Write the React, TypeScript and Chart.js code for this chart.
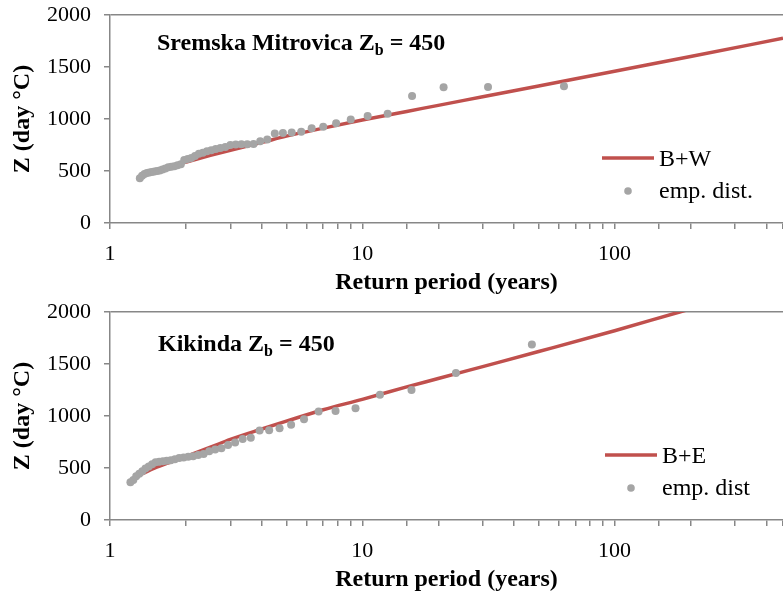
import React, { useEffect, useRef } from 'react';
import { Chart, registerables } from 'chart.js';

Chart.register(...registerables);

const FONT = '"Liberation Serif", "Times New Roman", serif';
const AXIS = '#878787';
const RED = '#C0504D';
const GRAY = '#A5A5A5';
const X_MIN = 1;
const X_MAX = 465;
const Y_MIN = 0;
const Y_MAX = 2000;
const Y_STEP = 500;
const X_LABELS = [1, 10, 100];

// ---- Sremska Mitrovica (top panel) ----
const smEmpT = [
  63, 31.5, 21, 15.75, 12.6, 10.5, 9, 7.875, 7, 6.3, 5.727, 5.25, 4.846, 4.5, 4.2, 3.938,
  3.706, 3.5, 3.316, 3.15, 3, 2.864, 2.739, 2.625, 2.52, 2.423, 2.333, 2.25, 2.172, 2.1,
  2.032, 1.969, 1.909, 1.853, 1.8, 1.75, 1.703, 1.658, 1.615, 1.575, 1.537, 1.5, 1.465,
  1.432, 1.4, 1.37, 1.34, 1.313,
];
const smEmpZ = [
  1316, 1308, 1305, 1220, 1050, 1030, 996, 958, 925, 912, 877, 870, 865, 861, 803, 785,
  760, 758, 757, 755, 750, 730, 722, 712, 700, 690, 675, 665, 645, 625, 615, 606, 565,
  555, 545, 540, 535, 525, 515, 505, 500, 495, 490, 485, 480, 470, 455, 430,
];
const smFitT = [1.3, 1.5, 1.75, 2, 2.5, 3, 4, 5, 7, 10, 15, 20, 30, 50, 100, 200, 465];
const smFitZ = [430, 497, 545, 585, 650, 700, 775, 835, 912, 990, 1073, 1131, 1214, 1318, 1460, 1601, 1776];

// ---- Kikinda (bottom panel) ----
const kiEmpT = [
  47, 23.5, 15.667, 11.75, 9.4, 7.833, 6.714, 5.875, 5.222, 4.7, 4.273, 3.917, 3.615,
  3.357, 3.133, 2.938, 2.765, 2.611, 2.474, 2.35, 2.238, 2.136, 2.043, 1.958, 1.88, 1.808,
  1.741, 1.679, 1.621, 1.567, 1.516, 1.469, 1.424, 1.382, 1.343, 1.306, 1.27, 1.237, 1.205,
];
const kiEmpZ = [
  1687, 1413, 1249, 1204, 1075, 1049, 1043, 969, 917, 882, 863, 860, 792, 780, 744, 722,
  690, 678, 660, 635, 625, 614, 608, 602, 596, 585, 575, 570, 566, 560, 555, 535, 515,
  495, 469, 445, 420, 385, 363,
];
const kiFitT = [1.2, 1.3, 1.4, 1.5, 1.75, 2, 2.5, 3, 4, 5, 7, 10, 15, 20, 30, 50, 100, 181, 300];
const kiFitZ = [365, 425, 465, 498, 560, 612, 700, 775, 875, 950, 1060, 1160, 1280, 1360, 1475, 1620, 1820, 2000, 2150];

type PanelProps = {
  title: string;
  sub: string;
  titleRest: string;
  titleX: number;
  titleY: number;
  empT: number[];
  empZ: number[];
  fitT: number[];
  fitZ: number[];
  fitLabel: string;
  empLabel: string;
  legendX: number;
};

function Panel(p: PanelProps) {
  const ref = useRef<HTMLCanvasElement | null>(null);
  useEffect(() => {
    if (!ref.current) return;
    const overlay = {
      id: 'overlay',
      afterDraw(chart: any) {
        const ctx = chart.ctx as CanvasRenderingContext2D;
        ctx.save();
        ctx.fillStyle = '#000';
        ctx.textBaseline = 'alphabetic';
        ctx.textAlign = 'left';
        ctx.font = `bold 24px ${FONT}`;
        let x = p.titleX;
        ctx.fillText(p.title, x, p.titleY);
        x += ctx.measureText(p.title).width;
        ctx.font = `bold 16px ${FONT}`;
        ctx.fillText(p.sub, x, p.titleY + 5);
        x += ctx.measureText(p.sub).width;
        ctx.font = `bold 24px ${FONT}`;
        ctx.fillText(p.titleRest, x, p.titleY);
        const lx = p.legendX;
        ctx.strokeStyle = RED;
        ctx.lineWidth = 3.5;
        ctx.beginPath();
        ctx.moveTo(lx, 158);
        ctx.lineTo(lx + 52, 158);
        ctx.stroke();
        ctx.fillStyle = GRAY;
        ctx.beginPath();
        ctx.arc(lx + 26, 191, 3.8, 0, Math.PI * 2);
        ctx.fill();
        ctx.fillStyle = '#000';
        ctx.font = `24px ${FONT}`;
        ctx.fillText(p.fitLabel, lx + 57, 166);
        ctx.fillText(p.empLabel, lx + 57, 198);
        ctx.restore();
      },
    };
    const chart = new Chart(ref.current, {
      type: 'scatter',
      data: {
        datasets: [
          {
            label: p.empLabel,
            data: p.empT.map((t, i) => ({ x: t, y: p.empZ[i] })),
            backgroundColor: GRAY,
            borderWidth: 0,
            pointRadius: 4,
            order: 0,
          },
          {
            label: p.fitLabel,
            data: p.fitT.map((t, i) => ({ x: t, y: p.fitZ[i] })),
            showLine: true,
            borderColor: RED,
            borderWidth: 3.5,
            pointRadius: 0,
            cubicInterpolationMode: 'monotone',
            order: 1,
          } as any,
        ],
      },
      options: {
        responsive: false,
        animation: false,
        devicePixelRatio: 1,
        layout: { padding: { top: 15, right: 0, left: 0, bottom: 0 } },
        plugins: { legend: { display: false }, tooltip: { enabled: false } },
        scales: {
          x: {
            type: 'logarithmic',
            min: X_MIN,
            max: X_MAX,
            border: { color: AXIS, width: 1.5 },
            grid: { drawOnChartArea: false, drawTicks: true, tickLength: 6, color: AXIS, lineWidth: 1.5 },
            ticks: {
              autoSkip: false,
              maxRotation: 0,
              color: '#000',
              padding: 12,
              font: { family: FONT, size: 22 },
              callback: (v: any) => {
                const n = Number(v);
                return X_LABELS.some((l) => Math.abs(l - n) < 1e-9) ? String(n) : '';
              },
            },
            title: {
              display: true,
              text: 'Return period (years)',
              color: '#000',
              font: { family: FONT, size: 24, weight: 'bold' },
              padding: 0,
            },
            afterFit: (s: any) => {
              s.height = 74;
              s.paddingLeft = 0;
              s.paddingRight = 0;
            },
          },
          y: {
            min: Y_MIN,
            max: Y_MAX,
            border: { color: AXIS, width: 1.5 },
            grid: {
              drawOnChartArea: true,
              drawTicks: true,
              tickLength: 6,
              lineWidth: 1.5,
              color: (c: any) => (c.tick && c.tick.value === Y_MAX ? AXIS : 'rgba(0,0,0,0)'),
              tickColor: AXIS,
            },
            ticks: {
              stepSize: Y_STEP,
              color: '#000',
              padding: 13,
              font: { family: FONT, size: 22 },
              callback: (v: any) => String(v),
            },
            title: {
              display: true,
              text: 'Z (day °C)',
              color: '#000',
              font: { family: FONT, size: 24, weight: 'bold' },
              padding: { top: 8, bottom: 0 },
            },
            afterFit: (s: any) => {
              s.width = 110;
              s.paddingTop = 0;
              s.paddingBottom = 0;
            },
          },
        },
      } as any,
      plugins: [overlay],
    });
    return () => chart.destroy();
  }, []);
  return <canvas ref={ref} width={787} height={297} style={{ display: 'block', width: 787, height: 297 }} />;
}

export default function App() {
  return (
    <div
      style={{
        position: 'absolute',
        left: 0,
        top: 0,
        width: 783,
        height: 594,
        overflow: 'hidden',
        background: '#fff',
      }}
    >
      <Panel
        title="Sremska Mitrovica Z"
        sub="b"
        titleRest=" = 450"
        titleX={157}
        titleY={50}
        empT={smEmpT}
        empZ={smEmpZ}
        fitT={smFitT}
        fitZ={smFitZ}
        fitLabel="B+W"
        empLabel="emp. dist."
        legendX={602}
      />
      <Panel
        title="Kikinda Z"
        sub="b"
        titleRest=" = 450"
        titleX={158}
        titleY={54}
        empT={kiEmpT}
        empZ={kiEmpZ}
        fitT={kiFitT}
        fitZ={kiFitZ}
        fitLabel="B+E"
        empLabel="emp. dist"
        legendX={605}
      />
    </div>
  );
}
